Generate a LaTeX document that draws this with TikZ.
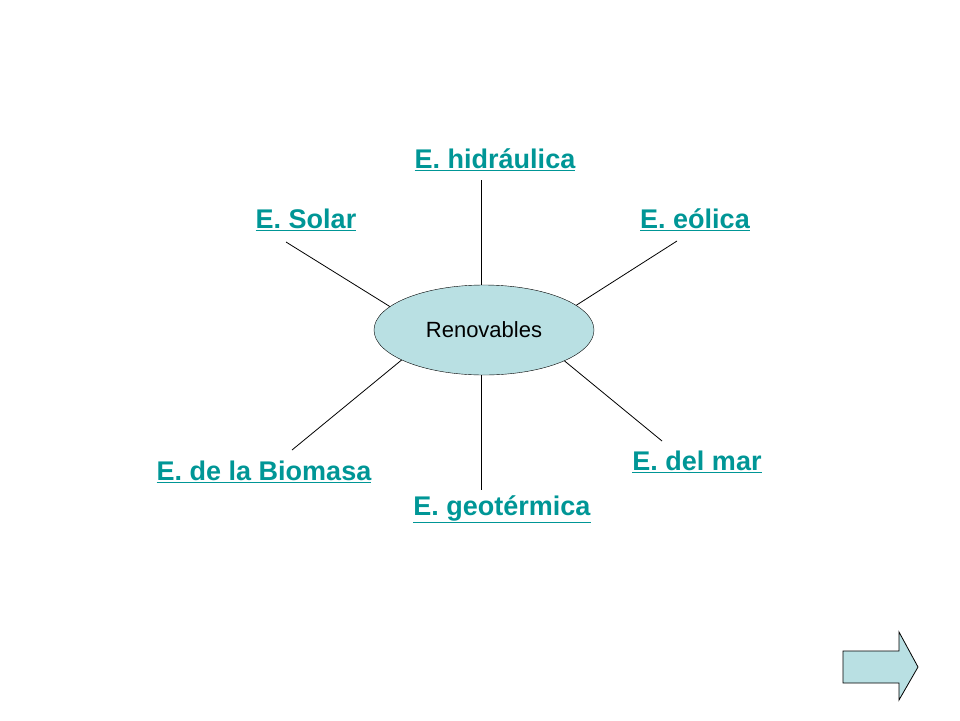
\documentclass[tikz,border=0pt]{standalone}
\usepackage{fontspec}
\setmainfont{Liberation Sans}
\usetikzlibrary{shapes.geometric}
\definecolor{linkteal}{RGB}{0,150,150}
\definecolor{lightcyan}{RGB}{185,224,227}
\tikzset{
  energia/.style={text=linkteal, font=\fontsize{27}{31}\selectfont\bfseries},
  rayo/.style={draw=black, line width=0.8pt}
}
\newcommand{\enlace}[1]{\underline{#1}}
\begin{document}
\begin{tikzpicture}[x=1pt,y=-1pt]
    \useasboundingbox (0,0) rectangle (960,720);
    %Centre
    \node[ellipse, draw=black, fill=lightcyan, minimum width=220, minimum height=90, inner sep=0pt, font=\fontsize{22}{24}\selectfont] (ren) at (484,330) {Renovables};
    %Labels
    \node[energia] (hid) at (495,160) {\enlace{E. hidráulica}};
    \node[energia] (sol) at (306,220) {\enlace{E. Solar}};
    \node[energia] (eol) at (695,220) {\enlace{E. eólica}};
    \node[energia] (bio) at (264,472) {\enlace{E. de la Biomasa}};
    \node[energia] (geo) at (502,509) {\enlace{E. geotérmica}};
    \node[energia] (mar) at (697,462) {\enlace{E. del mar}};
    %Line ends
    \coordinate (hidend) at (481,180);
    \coordinate (solend) at (286,242);
    \coordinate (eolend) at (677,241);
    \coordinate (bioend) at (292,450);
    \coordinate (geoend) at (481,490);
    \coordinate (marend) at (662,441);
    \draw[rayo] (ren.north -| hidend) -- (hidend);
    \draw[rayo] (ren.166) -- (solend);
    \draw[rayo] (ren.15) -- (eolend);
    \draw[rayo] (ren.200) -- (bioend);
    \draw[rayo] (ren.south -| geoend) -- (geoend);
    \draw[rayo] (ren.-21) -- (marend);
    %Next arrow
    \draw[fill=lightcyan, line width=0.8pt] (843,651) -- (899,651) -- (899,632) -- (918,667)
        -- (899,700) -- (899,683) -- (843,683) -- cycle;
\end{tikzpicture}
\end{document}
